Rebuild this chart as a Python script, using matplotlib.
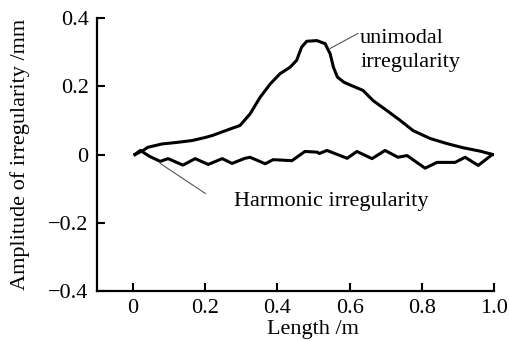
import matplotlib.pyplot as plt

plt.rcParams['font.family'] = ['Liberation Serif', 'DejaVu Serif']
plt.rcParams['font.size'] = 16

# unimodal irregularity profile
uni_x = [0.005, 0.028, 0.04, 0.08, 0.125, 0.163, 0.2, 0.22, 0.269, 0.296, 0.324,
         0.352, 0.380, 0.407, 0.435, 0.453, 0.467, 0.481, 0.509, 0.532, 0.546,
         0.555, 0.566, 0.584, 0.601, 0.637, 0.665, 0.703, 0.74, 0.776, 0.823,
         0.87, 0.914, 0.961, 0.997]
uni_y = [0.0, 0.012, 0.021, 0.031, 0.036, 0.041, 0.05, 0.056, 0.075, 0.085, 0.119,
         0.168, 0.207, 0.237, 0.256, 0.276, 0.315, 0.332, 0.334, 0.325, 0.295,
         0.256, 0.227, 0.212, 0.204, 0.188, 0.158, 0.129, 0.1, 0.07, 0.047,
         0.032, 0.02, 0.01, 0.0]

# harmonic irregularity profile
har_x = [0.005, 0.02, 0.045, 0.075, 0.097, 0.138, 0.172, 0.208, 0.247, 0.274,
         0.31, 0.324, 0.366, 0.388, 0.44, 0.476, 0.51, 0.516, 0.537, 0.593,
         0.62, 0.662, 0.698, 0.734, 0.759, 0.809, 0.842, 0.892, 0.92, 0.956, 0.994]
har_y = [0.0, 0.012, -0.005, -0.02, -0.012, -0.031, -0.012, -0.029, -0.012, -0.026,
         -0.011, -0.008, -0.027, -0.015, -0.018, 0.009, 0.007, 0.003, 0.012, -0.011,
         0.009, -0.012, 0.012, -0.008, -0.003, -0.04, -0.023, -0.023, -0.008, -0.032, -0.001]

xticks = [0, 0.2, 0.4, 0.6, 0.8, 1.0]
yticks = [-0.4, -0.2, 0, 0.2, 0.4]

fig = plt.figure(figsize=(5.09, 3.41), dpi=100)
ax = fig.add_axes([0.1906, 0.1466, 0.78, 0.8004])

ax.plot(uni_x, uni_y, color='black', lw=2.2, solid_joinstyle='round')
ax.plot(har_x, har_y, color='black', lw=2.2, solid_joinstyle='round')

ax.set_xlim(-0.1, 1.0)
ax.set_ylim(-0.4, 0.4)
ax.set_xticks(xticks)
ax.set_xticklabels(['0', '0.2', '0.4', '0.6', '0.8', '1.0'])
ax.set_yticks(yticks)
ax.set_yticklabels(['\u22120.4', '\u22120.2', '0', '0.2', '0.4'])
ax.tick_params(direction='in', length=6, width=1.5, pad=6)

for s in ['top', 'right']:
    ax.spines[s].set_visible(False)
for s in ['left', 'bottom']:
    ax.spines[s].set_linewidth(1.6)

ax.set_xlabel('Length /m', labelpad=-2)
ax.xaxis.set_label_coords(0.545, -0.105)
ax.set_ylabel('Amplitude of irregularity /mm')
ax.yaxis.set_label_coords(-0.17, 0.5)

# callouts
ax.text(0.629, 0.305, 'unimodal\nirregularity', fontsize=16, va='center',
        ha='left', linespacing=1.3)
ax.plot([0.546, 0.623], [0.311, 0.355], color='#555555', lw=0.8)
ax.text(0.28, -0.137, 'Harmonic irregularity', fontsize=16, va='center', ha='left')
ax.plot([0.075, 0.2], [-0.026, -0.114], color='#555555', lw=0.8)

fig.savefig('out.png', dpi=100)
